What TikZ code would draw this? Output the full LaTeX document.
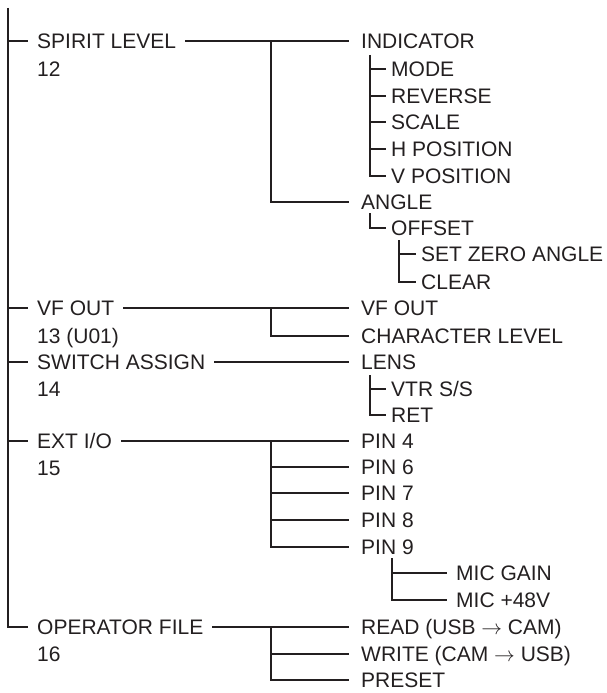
\documentclass[tikz,border=0pt]{standalone}
\usepackage{fontspec}
\setmainfont{Liberation Sans}
\definecolor{ink}{HTML}{231F20}

\begin{document}
\begin{tikzpicture}[x=1pt, y=-1pt,
		menu/.style={anchor=west, inner xsep=9pt, inner ysep=0pt, text height=15pt, text depth=0pt, text=ink, font=\fontsize{21}{21}\selectfont},
		item/.style={menu, inner xsep=12pt},
		subitem/.style={menu, inner xsep=5pt},
		tree/.style={draw=ink, line width=1.6pt}]
	\useasboundingbox (0,0) rectangle (607,693);

	% main menu
	\node[menu] (spirit) at (28,41) {SPIRIT LEVEL};
	\node[menu] (spiritno) at (28,69) {12};
	\node[menu] (vfout) at (28,308) {VF OUT};
	\node[menu] (vfoutno) at (28,336) {13 (U01)};
	\node[menu] (switch) at (28,362) {SWITCH ASSIGN};
	\node[menu] (switchno) at (28,389) {14};
	\node[menu] (ext) at (28,441) {EXT I/O};
	\node[menu] (extno) at (28,468) {15};
	\node[menu] (oper) at (28,627) {OPERATOR FILE};
	\node[menu] (operno) at (28,654) {16};

	% sub items
	\node[item] (indicator) at (349,41) {INDICATOR};
	\node[subitem] (mode) at (386,69) {MODE};
	\node[subitem] (reverse) at (386,96) {REVERSE};
	\node[subitem] (scale) at (386,122) {SCALE};
	\node[subitem] (hpos) at (386,149) {H POSITION};
	\node[subitem] (vpos) at (386,176) {V POSITION};
	\node[item] (angle) at (349,202) {ANGLE};
	\node[subitem] (offset) at (386,228) {OFFSET};
	\node[subitem] (setzero) at (416,254) {SET ZERO ANGLE};
	\node[subitem] (clear) at (416,282) {CLEAR};
	\node[item] (vfsub) at (349,308) {VF OUT};
	\node[item] (charlevel) at (349,336) {CHARACTER LEVEL};
	\node[item] (lens) at (349,362) {LENS};
	\node[subitem] (vtr) at (386,389) {VTR S/S};
	\node[subitem] (ret) at (386,415) {RET};
	\node[item] (pin4) at (349,441) {PIN 4};
	\node[item] (pin6) at (349,467) {PIN 6};
	\node[item] (pin7) at (349,493) {PIN 7};
	\node[item] (pin8) at (349,520) {PIN 8};
	\node[item] (pin9) at (349,547) {PIN 9};
	\node[menu] (micgain) at (447,573) {MIC GAIN};
	\node[menu] (micplus) at (447,600) {MIC +48V};
	\node[item] (read) at (349,627) {READ (USB $\rightarrow$ CAM)};
	\node[item] (write) at (349,654) {WRITE (CAM $\rightarrow$ USB)};
	\node[item] (preset) at (349,680) {PRESET};

	% junctions
	\coordinate (top) at (8,8);
	\coordinate (jx) at (271,0);
	\coordinate (isub) at (370,55);
	\coordinate (asub) at (370,213);
	\coordinate (osub) at (399,240);
	\coordinate (lsub) at (370,375);
	\coordinate (psub) at (392,558);

	% trunk
	\draw[tree] (top) |- (oper.west);
	\foreach \n in {spirit,vfout,switch,ext}
		\draw[tree] (top |- \n.west) -- (\n.west);

	% SPIRIT LEVEL
	\draw[tree] (spirit.east) -- (indicator.west);
	\draw[tree] (spirit.east -| jx) |- (angle.west);
	\draw[tree] (isub) |- (vpos.west);
	\foreach \n in {mode,reverse,scale,hpos}
		\draw[tree] (isub |- \n.west) -- (\n.west);
	\draw[tree] (asub) |- (offset.west);
	\draw[tree] (osub) |- (clear.west);
	\draw[tree] (osub |- setzero.west) -- (setzero.west);

	% VF OUT
	\draw[tree] (vfout.east) -- (vfsub.west);
	\draw[tree] (vfout.east -| jx) |- (charlevel.west);

	% SWITCH ASSIGN
	\draw[tree] (switch.east) -- (lens.west);
	\draw[tree] (lsub) |- (ret.west);
	\draw[tree] (lsub |- vtr.west) -- (vtr.west);

	% EXT I/O
	\draw[tree] (ext.east) -- (pin4.west);
	\draw[tree] (ext.east -| jx) |- (pin9.west);
	\foreach \n in {pin6,pin7,pin8}
		\draw[tree] (jx |- \n.west) -- (\n.west);
	\draw[tree] (psub) |- (micplus.west);
	\draw[tree] (psub |- micgain.west) -- (micgain.west);

	% OPERATOR FILE
	\draw[tree] (oper.east) -- (read.west);
	\draw[tree] (oper.east -| jx) |- (preset.west);
	\draw[tree] (jx |- write.west) -- (write.west);
\end{tikzpicture}
\end{document}
